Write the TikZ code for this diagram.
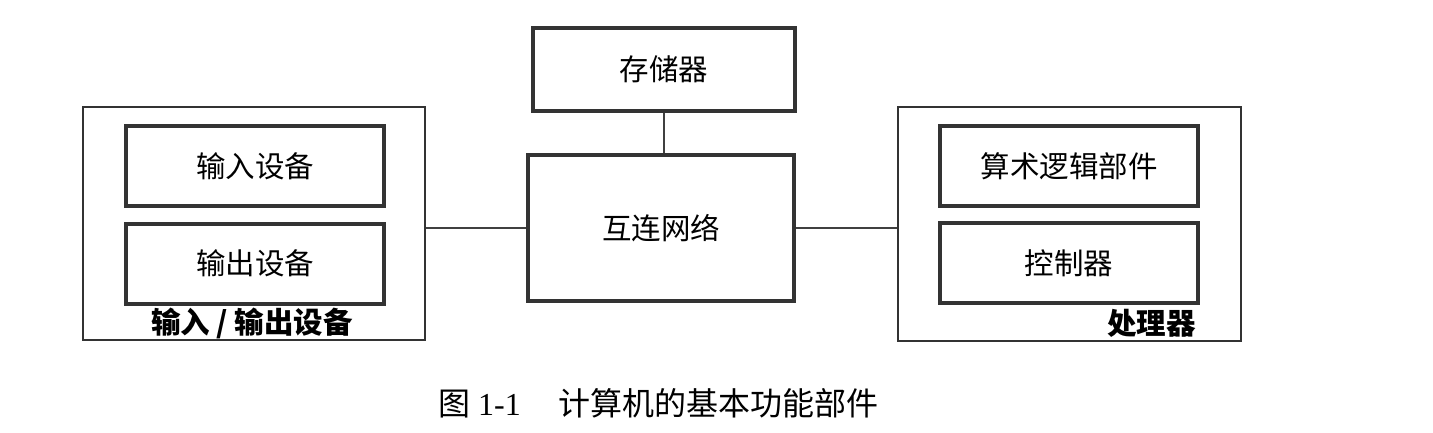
\documentclass[tikz,border=0pt]{standalone}
\usepackage{fontspec}
\setmainfont{Liberation Serif}
\newfontfamily\cjk{Noto Sans CJK SC}
\begin{document}
\begin{tikzpicture}[x=1pt,y=-1pt,
  inner/.style={draw=black!80,line width=4pt,minimum width=258pt,minimum height=80pt,font=\cjk\fontsize{29.5}{32}\selectfont},
  outer/.style={draw=black!80,line width=1.5pt},
  conn/.style={draw=black!75,line width=1.5pt},
  lab/.style={font=\cjk\bfseries\fontsize{29.5}{32}\selectfont,inner sep=0pt}]
\useasboundingbox (0,0) rectangle (1433,432);
% left group
\node[outer,minimum width=342pt,minimum height=233pt] (io) at (254,223.5) {};
\node[inner] (in) at (255,166) {输入设备};
\node[inner] (out) at (255,263.5) {输出设备};
\node[lab] (iolab) at (252,323) {输入 / 输出设备};
% center
\node[inner,minimum width=262pt,minimum height=83pt] (mem) at (664,69.5) {存储器};
\node[inner,minimum width=266pt,minimum height=146pt] (net) at (661,228) {互连网络};
% right group
\node[outer,minimum width=343pt,minimum height=234pt] (cpu) at (1069.5,224) {};
\node[inner] (alu) at (1069,166) {算术逻辑部件};
\node[inner] (ctl) at (1069,263) {控制器};
\node[lab,anchor=east] (cpulab) at (1196,323) {处理器};
% connectors
\draw[conn] (mem.south) -- (mem.south |- net.north);
\draw[conn] (net.west) -- (net.west -| io.east);
\draw[conn] (net.east) -- (net.east -| cpu.west);
% caption
\node[anchor=west,inner sep=0pt,font=\fontsize{32}{35}\selectfont] (cap) at (438,403) {{\cjk 图} 1-1\hspace{38pt}{\cjk 计算机的基本功能部件}};
\end{tikzpicture}
\end{document}
